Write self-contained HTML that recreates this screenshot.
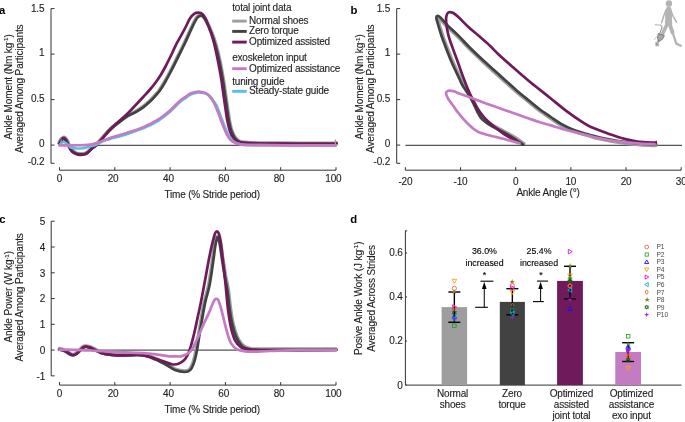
<!DOCTYPE html>
<html><head><meta charset="utf-8"><style>
html,body{margin:0;padding:0;background:#fff;width:685px;height:422px;overflow:hidden;}
svg{display:block;will-change:transform;}
text{font-family:"Liberation Sans",sans-serif;}
</style></head><body>
<svg width="685" height="422" viewBox="0 0 685 422">
<rect width="685" height="422" fill="#fff"/>
<line x1="51.00" y1="8.60" x2="51.00" y2="163.30" stroke="#333333" stroke-width="1.00"/>
<line x1="51.00" y1="8.60" x2="54.50" y2="8.60" stroke="#333333" stroke-width="1.00"/>
<text x="44.30" y="11.85" font-size="10.00" text-anchor="end" fill="#1e1e1e" stroke="#1e1e1e" stroke-width="0.12" letter-spacing="-0.20" >1.5</text>
<line x1="51.00" y1="54.10" x2="54.50" y2="54.10" stroke="#333333" stroke-width="1.00"/>
<text x="44.30" y="55.70" font-size="10.00" text-anchor="end" fill="#1e1e1e" stroke="#1e1e1e" stroke-width="0.12" letter-spacing="-0.20" >1</text>
<line x1="51.00" y1="99.60" x2="54.50" y2="99.60" stroke="#333333" stroke-width="1.00"/>
<text x="44.30" y="102.20" font-size="10.00" text-anchor="end" fill="#1e1e1e" stroke="#1e1e1e" stroke-width="0.12" letter-spacing="-0.20" >0.5</text>
<line x1="51.00" y1="145.10" x2="54.50" y2="145.10" stroke="#333333" stroke-width="1.00"/>
<text x="44.30" y="146.70" font-size="10.00" text-anchor="end" fill="#1e1e1e" stroke="#1e1e1e" stroke-width="0.12" letter-spacing="-0.20" >0</text>
<line x1="51.00" y1="163.30" x2="54.50" y2="163.30" stroke="#333333" stroke-width="1.00"/>
<text x="44.30" y="164.80" font-size="10.00" text-anchor="end" fill="#1e1e1e" stroke="#1e1e1e" stroke-width="0.12" letter-spacing="-0.20" >-0.2</text>
<line x1="59.50" y1="170.20" x2="336.00" y2="170.20" stroke="#333333" stroke-width="1.00"/>
<line x1="59.50" y1="170.20" x2="59.50" y2="167.20" stroke="#333333" stroke-width="1.00"/>
<text x="59.50" y="181.60" font-size="10.00" text-anchor="middle" fill="#1e1e1e" stroke="#1e1e1e" stroke-width="0.12" letter-spacing="-0.20" >0</text>
<line x1="114.80" y1="170.20" x2="114.80" y2="167.20" stroke="#333333" stroke-width="1.00"/>
<text x="113.10" y="181.60" font-size="10.00" text-anchor="middle" fill="#1e1e1e" stroke="#1e1e1e" stroke-width="0.12" letter-spacing="-0.20" >20</text>
<line x1="170.10" y1="170.20" x2="170.10" y2="167.20" stroke="#333333" stroke-width="1.00"/>
<text x="168.40" y="181.60" font-size="10.00" text-anchor="middle" fill="#1e1e1e" stroke="#1e1e1e" stroke-width="0.12" letter-spacing="-0.20" >40</text>
<line x1="225.40" y1="170.20" x2="225.40" y2="167.20" stroke="#333333" stroke-width="1.00"/>
<text x="223.70" y="181.60" font-size="10.00" text-anchor="middle" fill="#1e1e1e" stroke="#1e1e1e" stroke-width="0.12" letter-spacing="-0.20" >60</text>
<line x1="280.70" y1="170.20" x2="280.70" y2="167.20" stroke="#333333" stroke-width="1.00"/>
<text x="279.00" y="181.60" font-size="10.00" text-anchor="middle" fill="#1e1e1e" stroke="#1e1e1e" stroke-width="0.12" letter-spacing="-0.20" >80</text>
<line x1="336.00" y1="170.20" x2="336.00" y2="167.20" stroke="#333333" stroke-width="1.00"/>
<text x="333.40" y="181.60" font-size="10.00" text-anchor="middle" fill="#1e1e1e" stroke="#1e1e1e" stroke-width="0.12" letter-spacing="-0.20" >100</text>
<text x="164.50" y="197.70" font-size="10.00" text-anchor="start" fill="#1e1e1e" stroke="#1e1e1e" stroke-width="0.12" letter-spacing="-0.20" >Time (% Stride period)</text>
<line x1="59.50" y1="145.30" x2="336.00" y2="145.30" stroke="#555555" stroke-width="1.30"/>
<text transform="translate(12.00,139.50) rotate(-90)" font-size="10.00" fill="#1e1e1e" stroke="#1e1e1e" stroke-width="0.12" letter-spacing="-0.12">Ankle Moment (Nm kg<tspan font-size="6.2" dy="-3.6">-1</tspan><tspan dy="3.6">)</tspan></text>
<text transform="translate(22.60,152.90) rotate(-90)" font-size="10.00" fill="#1e1e1e" stroke="#1e1e1e" stroke-width="0.12" letter-spacing="-0.12">Averaged Among Participants</text>
<text x="-0.9" y="14.3" font-size="11.3" font-weight="bold" fill="#000">a</text>
<path d="M58.70,143.10 C59.04,142.41 59.89,139.98 60.79,138.95 C61.68,137.92 63.00,136.74 64.08,136.92 C65.16,137.10 66.32,138.52 67.28,140.04 C68.23,141.57 68.90,144.36 69.80,146.08 C70.69,147.80 71.55,149.25 72.64,150.37 C73.73,151.48 75.12,152.25 76.35,152.77 C77.59,153.29 78.64,153.44 80.04,153.50 C81.44,153.56 83.54,153.45 84.77,153.13 C86.01,152.81 86.34,152.48 87.44,151.59 C88.55,150.71 90.01,149.02 91.41,147.82 C92.82,146.61 94.05,146.12 95.87,144.35 C97.69,142.58 100.08,139.70 102.33,137.20 C104.58,134.70 106.86,131.79 109.37,129.35 C111.89,126.92 114.65,124.81 117.44,122.60 C120.23,120.38 123.27,117.85 126.12,116.04 C128.97,114.23 131.79,113.30 134.55,111.72 C137.31,110.14 140.20,108.39 142.67,106.57 C145.14,104.76 147.44,102.65 149.39,100.84 C151.33,99.03 152.74,97.46 154.33,95.70 C155.93,93.93 157.32,92.58 158.97,90.28 C160.62,87.97 162.28,85.22 164.22,81.85 C166.16,78.49 168.44,74.24 170.60,70.08 C172.76,65.93 174.96,61.40 177.19,56.90 C179.42,52.40 181.91,47.49 183.99,43.11 C186.07,38.73 188.06,34.13 189.68,30.62 C191.30,27.12 192.51,24.37 193.70,22.09 C194.89,19.80 195.76,18.11 196.81,16.92 C197.87,15.72 198.94,15.10 200.03,14.92 C201.13,14.73 202.33,14.96 203.39,15.82 C204.45,16.68 204.91,17.20 206.40,20.09 C207.89,22.98 210.68,28.97 212.34,33.17 C214.00,37.36 215.06,40.65 216.37,45.25 C217.67,49.86 218.96,55.05 220.18,60.81 C221.40,66.58 222.74,74.18 223.69,79.85 C224.64,85.53 225.21,90.20 225.89,94.87 C226.57,99.54 227.14,103.52 227.79,107.87 C228.44,112.21 229.02,117.04 229.78,120.93 C230.54,124.82 231.39,128.45 232.35,131.20 C233.31,133.96 234.26,135.79 235.52,137.45 C236.77,139.12 238.11,140.40 239.87,141.18 C241.63,141.95 242.71,141.85 246.07,142.10 C249.43,142.36 251.02,142.57 260.01,142.70 C269.00,142.83 287.84,142.87 300.00,142.90 C312.16,142.93 327.03,142.98 332.99,142.90 C338.94,142.82 335.29,142.49 335.75,142.41" fill="none" stroke="#9e9e9e" stroke-width="3.00" stroke-linejoin="round" stroke-linecap="round" />
<path d="M59.50,143.50 C59.83,142.83 60.77,140.45 61.50,139.50 C62.23,138.55 63.07,137.63 63.90,137.80 C64.73,137.97 65.65,139.05 66.50,140.50 C67.35,141.95 68.08,144.75 69.00,146.50 C69.92,148.25 70.83,149.82 72.00,151.00 C73.17,152.18 74.67,153.03 76.00,153.60 C77.33,154.17 78.50,154.33 80.00,154.40 C81.50,154.47 83.67,154.35 85.00,154.00 C86.33,153.65 86.83,153.22 88.00,152.30 C89.17,151.38 90.58,149.72 92.00,148.50 C93.42,147.28 94.67,146.78 96.50,145.00 C98.33,143.22 100.75,140.30 103.00,137.80 C105.25,135.30 107.50,132.42 110.00,130.00 C112.50,127.58 115.23,125.50 118.00,123.30 C120.77,121.10 123.77,118.60 126.60,116.80 C129.43,115.00 132.23,114.08 135.00,112.50 C137.77,110.92 140.70,109.13 143.20,107.30 C145.70,105.47 148.03,103.33 150.00,101.50 C151.97,99.67 153.38,98.08 155.00,96.30 C156.62,94.52 158.03,93.13 159.70,90.80 C161.37,88.47 163.05,85.68 165.00,82.30 C166.95,78.92 169.23,74.67 171.40,70.50 C173.57,66.33 175.77,61.80 178.00,57.30 C180.23,52.80 182.72,47.88 184.80,43.50 C186.88,39.12 188.88,34.50 190.50,31.00 C192.12,27.50 193.33,24.75 194.50,22.50 C195.67,20.25 196.55,18.62 197.50,17.50 C198.45,16.38 199.32,15.97 200.20,15.80 C201.08,15.63 201.90,15.72 202.80,16.50 C203.70,17.28 204.15,17.67 205.60,20.50 C207.05,23.33 209.85,29.33 211.50,33.50 C213.15,37.67 214.20,40.92 215.50,45.50 C216.80,50.08 218.08,55.25 219.30,61.00 C220.52,66.75 221.85,74.33 222.80,80.00 C223.75,85.67 224.32,90.33 225.00,95.00 C225.68,99.67 226.25,103.65 226.90,108.00 C227.55,112.35 228.13,117.18 228.90,121.10 C229.67,125.02 230.52,128.68 231.50,131.50 C232.48,134.32 233.47,136.25 234.80,138.00 C236.13,139.75 237.63,141.17 239.50,142.00 C241.37,142.83 242.58,142.73 246.00,143.00 C249.42,143.27 251.00,143.47 260.00,143.60 C269.00,143.73 287.83,143.77 300.00,143.80 C312.17,143.83 327.02,143.88 333.00,143.80 C338.98,143.72 335.42,143.38 335.90,143.30" fill="none" stroke="#424242" stroke-width="2.70" stroke-linejoin="round" stroke-linecap="round" />
<path d="M59.50,143.50 C59.83,143.00 60.77,141.25 61.50,140.50 C62.23,139.75 63.07,138.83 63.90,139.00 C64.73,139.17 65.65,140.17 66.50,141.50 C67.35,142.83 68.08,145.33 69.00,147.00 C69.92,148.67 70.83,150.33 72.00,151.50 C73.17,152.67 74.67,153.45 76.00,154.00 C77.33,154.55 78.50,154.75 80.00,154.80 C81.50,154.85 83.67,154.68 85.00,154.30 C86.33,153.92 86.83,153.47 88.00,152.50 C89.17,151.53 90.58,149.75 92.00,148.50 C93.42,147.25 94.67,146.78 96.50,145.00 C98.33,143.22 100.75,140.35 103.00,137.80 C105.25,135.25 107.50,132.30 110.00,129.70 C112.50,127.10 115.23,124.73 118.00,122.20 C120.77,119.67 123.77,117.23 126.60,114.50 C129.43,111.77 132.23,108.72 135.00,105.80 C137.77,102.88 140.70,99.72 143.20,97.00 C145.70,94.28 147.87,92.00 150.00,89.50 C152.13,87.00 154.17,84.50 156.00,82.00 C157.83,79.50 159.47,77.00 161.00,74.50 C162.53,72.00 163.62,70.00 165.20,67.00 C166.78,64.00 168.52,60.55 170.50,56.50 C172.48,52.45 174.82,47.13 177.10,42.70 C179.38,38.27 182.07,33.93 184.20,29.90 C186.33,25.87 188.25,21.18 189.90,18.50 C191.55,15.82 192.68,14.78 194.10,13.80 C195.52,12.82 196.97,12.53 198.40,12.60 C199.83,12.67 201.45,13.10 202.70,14.20 C203.95,15.30 204.57,16.27 205.90,19.20 C207.23,22.13 209.32,27.72 210.70,31.80 C212.08,35.88 213.02,38.95 214.20,43.70 C215.38,48.45 216.62,54.38 217.80,60.30 C218.98,66.22 220.35,73.42 221.30,79.20 C222.25,84.98 222.82,90.20 223.50,95.00 C224.18,99.80 224.75,103.65 225.40,108.00 C226.05,112.35 226.63,117.18 227.40,121.10 C228.17,125.02 229.02,128.68 230.00,131.50 C230.98,134.32 231.88,136.27 233.30,138.00 C234.72,139.73 236.55,141.08 238.50,141.90 C240.45,142.72 241.42,142.63 245.00,142.90 C248.58,143.17 250.83,143.35 260.00,143.50 C269.17,143.65 287.83,143.75 300.00,143.80 C312.17,143.85 327.02,143.88 333.00,143.80 C338.98,143.72 335.42,143.38 335.90,143.30" fill="none" stroke="#6f1a5b" stroke-width="2.70" stroke-linejoin="round" stroke-linecap="round" />
<path d="M59.50,145.00 C59.83,144.67 60.83,143.50 61.50,143.00 C62.17,142.50 62.67,141.92 63.50,142.00 C64.33,142.08 65.42,142.67 66.50,143.50 C67.58,144.33 68.58,146.20 70.00,147.00 C71.42,147.80 73.33,148.05 75.00,148.30 C76.67,148.55 78.33,148.55 80.00,148.50 C81.67,148.45 83.33,148.33 85.00,148.00 C86.67,147.67 88.08,147.08 90.00,146.50 C91.92,145.92 94.33,145.42 96.50,144.50 C98.67,143.58 100.75,141.93 103.00,141.00 C105.25,140.07 106.07,140.05 110.00,138.90 C113.93,137.75 121.07,135.87 126.60,134.10 C132.13,132.33 137.97,130.52 143.20,128.30 C148.43,126.08 153.53,123.57 158.00,120.80 C162.47,118.03 166.33,114.83 170.00,111.70 C173.67,108.57 177.50,104.23 180.00,102.00 C182.50,99.77 183.17,99.58 185.00,98.30 C186.83,97.02 188.80,95.28 191.00,94.30 C193.20,93.32 196.12,92.62 198.20,92.40 C200.28,92.18 201.93,92.67 203.50,93.00 C205.07,93.33 206.35,93.63 207.60,94.40 C208.85,95.17 209.85,96.27 211.00,97.60 C212.15,98.93 213.58,101.07 214.50,102.40 C215.42,103.73 215.52,103.43 216.50,105.60 C217.48,107.77 219.10,112.03 220.40,115.40 C221.70,118.77 223.00,122.55 224.30,125.80 C225.60,129.05 226.90,132.43 228.20,134.90 C229.50,137.37 230.57,139.15 232.10,140.60 C233.63,142.05 235.65,142.92 237.40,143.60 C239.15,144.28 241.17,144.47 242.60,144.70 C244.03,144.93 243.10,144.92 246.00,145.00 C248.90,145.08 251.00,145.15 260.00,145.20 C269.00,145.25 287.35,145.28 300.00,145.30 C312.65,145.32 329.92,145.30 335.90,145.30" fill="none" stroke="#5bbdea" stroke-width="2.70" stroke-linejoin="round" stroke-linecap="round" />
<path d="M59.50,145.30 C62.08,145.30 69.92,145.42 75.00,145.30 C80.08,145.18 85.83,145.15 90.00,144.60 C94.17,144.05 96.67,143.10 100.00,142.00 C103.33,140.90 105.57,139.50 110.00,138.00 C114.43,136.50 121.07,134.80 126.60,133.00 C132.13,131.20 137.97,129.42 143.20,127.20 C148.43,124.98 153.53,122.48 158.00,119.70 C162.47,116.92 166.33,113.67 170.00,110.50 C173.67,107.33 177.50,102.92 180.00,100.70 C182.50,98.48 183.17,98.43 185.00,97.20 C186.83,95.97 188.80,94.23 191.00,93.30 C193.20,92.37 196.20,91.77 198.20,91.60 C200.20,91.43 201.60,91.97 203.00,92.30 C204.40,92.63 205.43,92.85 206.60,93.60 C207.77,94.35 208.88,95.47 210.00,96.80 C211.12,98.13 212.47,100.27 213.30,101.60 C214.13,102.93 214.07,102.63 215.00,104.80 C215.93,106.97 217.60,111.23 218.90,114.60 C220.20,117.97 221.50,121.75 222.80,125.00 C224.10,128.25 225.40,131.60 226.70,134.10 C228.00,136.60 229.07,138.48 230.60,140.00 C232.13,141.52 234.15,142.45 235.90,143.20 C237.65,143.95 239.58,144.22 241.10,144.50 C242.62,144.78 241.85,144.78 245.00,144.90 C248.15,145.02 250.83,145.13 260.00,145.20 C269.17,145.27 287.35,145.28 300.00,145.30 C312.65,145.32 329.92,145.30 335.90,145.30" fill="none" stroke="#c47bc2" stroke-width="2.70" stroke-linejoin="round" stroke-linecap="round" />
<line x1="335.40" y1="144.50" x2="335.40" y2="139.50" stroke="#9e9e9e" stroke-width="1.30"/>
<line x1="61.20" y1="143.50" x2="61.20" y2="139.50" stroke="#9e9e9e" stroke-width="1.20"/>
<text x="232.20" y="11.30" font-size="10.00" text-anchor="start" fill="#1e1e1e" stroke="#1e1e1e" stroke-width="0.12" letter-spacing="-0.20" >total joint data</text>
<line x1="232.20" y1="21.10" x2="246.70" y2="21.10" stroke="#9e9e9e" stroke-width="2.90"/>
<text x="249.10" y="24.00" font-size="10.00" text-anchor="start" fill="#1e1e1e" stroke="#1e1e1e" stroke-width="0.12" letter-spacing="-0.20" >Normal shoes</text>
<line x1="232.20" y1="31.40" x2="246.70" y2="31.40" stroke="#424242" stroke-width="2.90"/>
<text x="249.10" y="34.30" font-size="10.00" text-anchor="start" fill="#1e1e1e" stroke="#1e1e1e" stroke-width="0.12" letter-spacing="-0.20" >Zero torque</text>
<line x1="232.20" y1="42.10" x2="246.70" y2="42.10" stroke="#6f1a5b" stroke-width="2.90"/>
<text x="249.10" y="45.00" font-size="10.00" text-anchor="start" fill="#1e1e1e" stroke="#1e1e1e" stroke-width="0.12" letter-spacing="-0.20" >Optimized assisted</text>
<text x="232.20" y="60.80" font-size="10.00" text-anchor="start" fill="#1e1e1e" stroke="#1e1e1e" stroke-width="0.12" letter-spacing="-0.20" >exoskeleton input</text>
<line x1="232.20" y1="68.70" x2="246.70" y2="68.70" stroke="#c47bc2" stroke-width="2.90"/>
<text x="249.10" y="71.60" font-size="10.00" text-anchor="start" fill="#1e1e1e" stroke="#1e1e1e" stroke-width="0.12" letter-spacing="-0.20" >Optimized assistance</text>
<text x="232.20" y="85.00" font-size="10.00" text-anchor="start" fill="#1e1e1e" stroke="#1e1e1e" stroke-width="0.12" letter-spacing="-0.20" >tuning guide</text>
<line x1="232.20" y1="91.30" x2="246.70" y2="91.30" stroke="#5bbdea" stroke-width="2.90"/>
<text x="249.10" y="94.20" font-size="10.00" text-anchor="start" fill="#1e1e1e" stroke="#1e1e1e" stroke-width="0.12" letter-spacing="-0.20" >Steady-state guide</text>
<line x1="396.70" y1="8.60" x2="396.70" y2="163.30" stroke="#333333" stroke-width="1.00"/>
<line x1="396.70" y1="8.60" x2="400.20" y2="8.60" stroke="#333333" stroke-width="1.00"/>
<text x="390.00" y="11.85" font-size="10.00" text-anchor="end" fill="#1e1e1e" stroke="#1e1e1e" stroke-width="0.12" letter-spacing="-0.20" >1.5</text>
<line x1="396.70" y1="54.10" x2="400.20" y2="54.10" stroke="#333333" stroke-width="1.00"/>
<text x="390.00" y="55.70" font-size="10.00" text-anchor="end" fill="#1e1e1e" stroke="#1e1e1e" stroke-width="0.12" letter-spacing="-0.20" >1</text>
<line x1="396.70" y1="99.60" x2="400.20" y2="99.60" stroke="#333333" stroke-width="1.00"/>
<text x="390.00" y="102.20" font-size="10.00" text-anchor="end" fill="#1e1e1e" stroke="#1e1e1e" stroke-width="0.12" letter-spacing="-0.20" >0.5</text>
<line x1="396.70" y1="145.10" x2="400.20" y2="145.10" stroke="#333333" stroke-width="1.00"/>
<text x="390.00" y="146.70" font-size="10.00" text-anchor="end" fill="#1e1e1e" stroke="#1e1e1e" stroke-width="0.12" letter-spacing="-0.20" >0</text>
<line x1="396.70" y1="163.30" x2="400.20" y2="163.30" stroke="#333333" stroke-width="1.00"/>
<text x="390.00" y="164.80" font-size="10.00" text-anchor="end" fill="#1e1e1e" stroke="#1e1e1e" stroke-width="0.12" letter-spacing="-0.20" >-0.2</text>
<line x1="405.38" y1="170.20" x2="681.18" y2="170.20" stroke="#333333" stroke-width="1.00"/>
<line x1="405.38" y1="170.20" x2="405.38" y2="167.20" stroke="#333333" stroke-width="1.00"/>
<text x="405.38" y="184.50" font-size="10.00" text-anchor="middle" fill="#1e1e1e" stroke="#1e1e1e" stroke-width="0.12" letter-spacing="-0.20" >-20</text>
<line x1="460.54" y1="170.20" x2="460.54" y2="167.20" stroke="#333333" stroke-width="1.00"/>
<text x="460.54" y="184.50" font-size="10.00" text-anchor="middle" fill="#1e1e1e" stroke="#1e1e1e" stroke-width="0.12" letter-spacing="-0.20" >-10</text>
<line x1="515.70" y1="170.20" x2="515.70" y2="167.20" stroke="#333333" stroke-width="1.00"/>
<text x="515.70" y="184.50" font-size="10.00" text-anchor="middle" fill="#1e1e1e" stroke="#1e1e1e" stroke-width="0.12" letter-spacing="-0.20" >0</text>
<line x1="570.86" y1="170.20" x2="570.86" y2="167.20" stroke="#333333" stroke-width="1.00"/>
<text x="570.86" y="184.50" font-size="10.00" text-anchor="middle" fill="#1e1e1e" stroke="#1e1e1e" stroke-width="0.12" letter-spacing="-0.20" >10</text>
<line x1="626.02" y1="170.20" x2="626.02" y2="167.20" stroke="#333333" stroke-width="1.00"/>
<text x="626.02" y="184.50" font-size="10.00" text-anchor="middle" fill="#1e1e1e" stroke="#1e1e1e" stroke-width="0.12" letter-spacing="-0.20" >20</text>
<line x1="681.18" y1="170.20" x2="681.18" y2="167.20" stroke="#333333" stroke-width="1.00"/>
<text x="681.18" y="184.50" font-size="10.00" text-anchor="middle" fill="#1e1e1e" stroke="#1e1e1e" stroke-width="0.12" letter-spacing="-0.20" >30</text>
<line x1="405.38" y1="145.30" x2="682.00" y2="145.30" stroke="#555555" stroke-width="1.30"/>
<text x="516.40" y="195.80" font-size="10.00" text-anchor="start" fill="#1e1e1e" stroke="#1e1e1e" stroke-width="0.12" letter-spacing="-0.20" >Ankle Angle (&#176;)</text>
<text transform="translate(363.30,139.50) rotate(-90)" font-size="10.00" fill="#1e1e1e" stroke="#1e1e1e" stroke-width="0.12" letter-spacing="-0.12">Ankle Moment (Nm kg<tspan font-size="6.2" dy="-3.6">-1</tspan><tspan dy="3.6">)</tspan></text>
<text transform="translate(374.20,152.90) rotate(-90)" font-size="10.00" fill="#1e1e1e" stroke="#1e1e1e" stroke-width="0.12" letter-spacing="-0.12">Averaged Among Participants</text>
<text x="350.4" y="14.4" font-size="11.3" font-weight="bold" fill="#000">b</text>
<path d="M523.94,143.63 C522.38,142.56 518.29,139.49 514.58,137.20 C510.88,134.90 505.71,132.08 501.73,129.86 C497.75,127.65 493.82,125.86 490.69,123.90 C487.56,121.94 484.95,120.19 482.94,118.10 C480.93,116.01 480.19,114.25 478.64,111.38 C477.09,108.51 475.32,104.07 473.65,100.89 C471.98,97.72 470.31,95.07 468.61,92.32 C466.90,89.56 464.75,86.67 463.43,84.36 C462.11,82.04 461.88,81.01 460.68,78.45 C459.47,75.88 457.66,72.16 456.18,68.96 C454.70,65.75 453.36,62.95 451.80,59.20 C450.24,55.45 448.34,50.44 446.81,46.44 C445.29,42.43 443.96,39.15 442.63,35.19 C441.31,31.22 439.69,25.54 438.85,22.64 C438.01,19.74 437.77,18.73 437.60,17.80 C437.43,16.87 437.59,17.04 437.84,17.08 C438.09,17.12 437.71,16.58 439.10,18.04 C440.49,19.50 443.11,22.74 446.18,25.82 C449.24,28.90 453.66,32.70 457.48,36.52 C461.30,40.34 464.78,44.43 469.08,48.72 C473.39,53.01 478.58,57.86 483.32,62.25 C488.06,66.64 493.78,71.70 497.53,75.07 C501.28,78.44 502.50,79.48 505.83,82.47 C509.17,85.46 513.65,89.65 517.56,92.99 C521.46,96.33 525.67,99.58 529.28,102.51 C532.89,105.44 535.76,107.95 539.22,110.54 C542.69,113.13 546.45,115.61 550.07,118.07 C553.69,120.54 557.06,123.12 560.96,125.33 C564.85,127.54 568.78,129.55 573.44,131.32 C578.10,133.09 584.56,134.69 588.94,135.95 C593.32,137.21 594.58,137.76 599.73,138.87 C604.87,139.98 613.11,141.58 619.81,142.59 C626.50,143.59 633.87,144.38 639.89,144.90 C645.91,145.41 653.26,145.56 655.94,145.70" fill="none" stroke="#9e9e9e" stroke-width="3.20" stroke-linejoin="round" stroke-linecap="round" />
<path d="M523.20,144.70 C521.65,143.63 517.58,140.58 513.90,138.30 C510.22,136.02 505.08,133.22 501.10,131.00 C497.12,128.78 493.18,127.00 490.00,125.00 C486.82,123.00 484.08,121.17 482.00,119.00 C479.92,116.83 479.08,114.92 477.50,112.00 C475.92,109.08 474.17,104.67 472.50,101.50 C470.83,98.33 469.20,95.75 467.50,93.00 C465.80,90.25 463.63,87.33 462.30,85.00 C460.97,82.67 460.72,81.58 459.50,79.00 C458.28,76.42 456.48,72.72 455.00,69.50 C453.52,66.28 452.17,63.47 450.60,59.70 C449.03,55.93 447.13,50.92 445.60,46.90 C444.07,42.88 442.73,39.58 441.40,35.60 C440.07,31.62 438.45,25.97 437.60,23.00 C436.75,20.03 436.30,19.00 436.30,17.80 C436.30,16.60 436.98,15.92 437.60,15.80 C438.22,15.68 438.42,15.58 440.00,17.10 C441.58,18.62 444.03,21.82 447.10,24.90 C450.17,27.98 454.58,31.78 458.40,35.60 C462.22,39.42 465.70,43.52 470.00,47.80 C474.30,52.08 479.47,56.92 484.20,61.30 C488.93,65.68 494.65,70.73 498.40,74.10 C502.15,77.47 503.37,78.52 506.70,81.50 C510.03,84.48 514.50,88.67 518.40,92.00 C522.30,95.33 526.50,98.58 530.10,101.50 C533.70,104.42 536.55,106.92 540.00,109.50 C543.45,112.08 547.20,114.55 550.80,117.00 C554.40,119.45 557.75,122.02 561.60,124.20 C565.45,126.38 569.28,128.35 573.90,130.10 C578.52,131.85 584.95,133.45 589.30,134.70 C593.65,135.95 594.88,136.50 600.00,137.60 C605.12,138.70 613.33,140.30 620.00,141.30 C626.67,142.30 634.00,143.08 640.00,143.60 C646.00,144.12 653.33,144.27 656.00,144.40" fill="none" stroke="#424242" stroke-width="2.70" stroke-linejoin="round" stroke-linecap="round" />
<path d="M519.60,142.60 C518.42,142.00 515.10,140.43 512.50,139.00 C509.90,137.57 506.72,135.80 504.00,134.00 C501.28,132.20 498.67,130.13 496.20,128.20 C493.73,126.27 491.33,124.35 489.20,122.40 C487.07,120.45 485.35,118.83 483.40,116.50 C481.45,114.17 479.45,111.50 477.50,108.40 C475.55,105.30 473.45,101.47 471.70,97.90 C469.95,94.33 468.62,90.98 467.00,87.00 C465.38,83.02 463.67,78.55 462.00,74.00 C460.33,69.45 458.53,63.97 457.00,59.70 C455.47,55.43 454.22,52.42 452.80,48.40 C451.38,44.38 449.57,39.63 448.50,35.60 C447.43,31.57 446.77,27.38 446.40,24.20 C446.03,21.02 445.95,18.47 446.30,16.50 C446.65,14.53 447.42,13.02 448.50,12.40 C449.58,11.78 451.15,12.02 452.80,12.80 C454.45,13.58 455.80,14.73 458.40,17.10 C461.00,19.47 465.07,23.92 468.40,27.00 C471.73,30.08 474.85,32.52 478.40,35.60 C481.95,38.68 486.37,42.40 489.70,45.50 C493.03,48.60 494.57,50.62 498.40,54.20 C502.23,57.78 507.82,62.70 512.70,67.00 C517.58,71.30 523.92,76.80 527.70,80.00 C531.48,83.20 531.55,83.12 535.40,86.20 C539.25,89.28 545.67,94.40 550.80,98.50 C555.93,102.60 561.07,106.95 566.20,110.80 C571.33,114.65 577.48,118.90 581.60,121.60 C585.72,124.30 587.53,125.40 590.90,127.00 C594.27,128.60 598.00,129.78 601.80,131.20 C605.60,132.62 609.75,134.18 613.70,135.50 C617.65,136.82 621.55,138.10 625.50,139.10 C629.45,140.10 632.35,140.90 637.40,141.50 C642.45,142.10 652.73,142.50 655.80,142.70" fill="none" stroke="#6f1a5b" stroke-width="2.70" stroke-linejoin="round" stroke-linecap="round" />
<path d="M519.60,143.30 C517.47,142.70 511.30,140.88 506.80,139.70 C502.30,138.52 497.33,137.50 492.60,136.20 C487.87,134.90 481.95,133.45 478.40,131.90 C474.85,130.35 473.67,128.92 471.30,126.90 C468.93,124.88 466.57,122.40 464.20,119.80 C461.83,117.20 459.12,113.90 457.10,111.30 C455.08,108.70 453.53,106.22 452.10,104.20 C450.67,102.18 449.45,100.77 448.50,99.20 C447.55,97.63 446.78,95.97 446.40,94.80 C446.02,93.63 445.73,92.88 446.20,92.20 C446.67,91.52 447.87,90.83 449.20,90.70 C450.53,90.57 452.40,90.88 454.20,91.40 C456.00,91.92 457.08,92.72 460.00,93.80 C462.92,94.88 467.80,96.45 471.70,97.90 C475.60,99.35 479.52,101.05 483.40,102.50 C487.28,103.95 491.12,105.23 495.00,106.60 C498.88,107.97 502.80,109.33 506.70,110.70 C510.60,112.07 514.50,113.43 518.40,114.80 C522.30,116.17 526.50,117.67 530.10,118.90 C533.70,120.13 536.55,121.12 540.00,122.20 C543.45,123.28 546.43,124.12 550.80,125.40 C555.17,126.68 561.07,128.48 566.20,129.90 C571.33,131.32 575.97,132.48 581.60,133.90 C587.23,135.32 594.65,137.23 600.00,138.40 C605.35,139.57 607.47,140.07 613.70,140.90 C619.93,141.73 630.28,142.83 637.40,143.40 C644.52,143.97 653.23,144.15 656.40,144.30" fill="none" stroke="#c47bc2" stroke-width="2.70" stroke-linejoin="round" stroke-linecap="round" />
<line x1="656.30" y1="144.50" x2="656.30" y2="140.80" stroke="#6f1a5b" stroke-width="1.20"/>
<g fill="#b4b4b4" stroke="none">
<circle cx="668.9" cy="3.4" r="3.2"/>
<path d="M667.2,6.2 L670.4,6.4 L671.6,9.2 L672.2,14 L671.9,19.5 L672.3,24.5 L666.8,26.5 L664.9,24 L665.2,18 L665.0,12.5 L665.9,9 Z"/>
</g>
<g fill="none" stroke="#b4b4b4" stroke-linecap="round" stroke-linejoin="round">
<path d="M666.2,9.5 L663.6,16.2 L661.6,22.8" stroke-width="1.6"/>
<path d="M670.6,10 L673.2,16.3 L676.5,22.2" stroke-width="1.6"/>
<path d="M669.4,23.5 L672.6,32.5" stroke-width="3.8"/>
<path d="M672.6,32.5 L676.3,43.6 L680.8,45.7" stroke-width="2.3"/>
<path d="M667.2,24 L662.6,33.6" stroke-width="3.6"/>
<path d="M662.6,33.6 L657.6,42.2 L656.4,45.2" stroke-width="2.4"/>
</g>
<path d="M655.1,24.8 L660.6,25.1" stroke="#c8c8c8" stroke-width="1.4" stroke-linecap="round"/>
<path d="M660.6,25.1 Q662.6,26 661.9,28 L659.4,34.2" fill="none" stroke="#555" stroke-width="0.7"/>
<path d="M658.2,33.6 L664.4,35.6 L662.6,39.2 L658.9,41.6 L657.4,38.2 Z" fill="#a6a6a6" stroke="#555" stroke-width="0.6"/>
<path d="M654,40 L658,35.1" stroke="#f4a582" stroke-width="0.8"/>
<path d="M655.2,42.2 L658.6,43.2 L658.8,46.4 L656,45.6 Z" fill="#a0a0a0"/>
<line x1="51.20" y1="221.25" x2="51.20" y2="375.87" stroke="#333333" stroke-width="1.00"/>
<line x1="51.20" y1="375.87" x2="54.70" y2="375.87" stroke="#333333" stroke-width="1.00"/>
<text x="45.10" y="379.67" font-size="10.00" text-anchor="end" fill="#1e1e1e" stroke="#1e1e1e" stroke-width="0.12" letter-spacing="-0.20" >-1</text>
<line x1="51.20" y1="350.10" x2="54.70" y2="350.10" stroke="#333333" stroke-width="1.00"/>
<text x="45.10" y="353.90" font-size="10.00" text-anchor="end" fill="#1e1e1e" stroke="#1e1e1e" stroke-width="0.12" letter-spacing="-0.20" >0</text>
<line x1="51.20" y1="324.33" x2="54.70" y2="324.33" stroke="#333333" stroke-width="1.00"/>
<text x="45.10" y="328.13" font-size="10.00" text-anchor="end" fill="#1e1e1e" stroke="#1e1e1e" stroke-width="0.12" letter-spacing="-0.20" >1</text>
<line x1="51.20" y1="298.56" x2="54.70" y2="298.56" stroke="#333333" stroke-width="1.00"/>
<text x="45.10" y="302.36" font-size="10.00" text-anchor="end" fill="#1e1e1e" stroke="#1e1e1e" stroke-width="0.12" letter-spacing="-0.20" >2</text>
<line x1="51.20" y1="272.79" x2="54.70" y2="272.79" stroke="#333333" stroke-width="1.00"/>
<text x="45.10" y="276.59" font-size="10.00" text-anchor="end" fill="#1e1e1e" stroke="#1e1e1e" stroke-width="0.12" letter-spacing="-0.20" >3</text>
<line x1="51.20" y1="247.02" x2="54.70" y2="247.02" stroke="#333333" stroke-width="1.00"/>
<text x="45.10" y="250.82" font-size="10.00" text-anchor="end" fill="#1e1e1e" stroke="#1e1e1e" stroke-width="0.12" letter-spacing="-0.20" >4</text>
<line x1="51.20" y1="221.25" x2="54.70" y2="221.25" stroke="#333333" stroke-width="1.00"/>
<text x="45.10" y="225.05" font-size="10.00" text-anchor="end" fill="#1e1e1e" stroke="#1e1e1e" stroke-width="0.12" letter-spacing="-0.20" >5</text>
<line x1="59.50" y1="385.10" x2="336.00" y2="385.10" stroke="#333333" stroke-width="1.00"/>
<line x1="59.50" y1="385.10" x2="59.50" y2="382.10" stroke="#333333" stroke-width="1.00"/>
<text x="59.50" y="396.80" font-size="10.00" text-anchor="middle" fill="#1e1e1e" stroke="#1e1e1e" stroke-width="0.12" letter-spacing="-0.20" >0</text>
<line x1="114.80" y1="385.10" x2="114.80" y2="382.10" stroke="#333333" stroke-width="1.00"/>
<text x="113.10" y="396.80" font-size="10.00" text-anchor="middle" fill="#1e1e1e" stroke="#1e1e1e" stroke-width="0.12" letter-spacing="-0.20" >20</text>
<line x1="170.10" y1="385.10" x2="170.10" y2="382.10" stroke="#333333" stroke-width="1.00"/>
<text x="168.40" y="396.80" font-size="10.00" text-anchor="middle" fill="#1e1e1e" stroke="#1e1e1e" stroke-width="0.12" letter-spacing="-0.20" >40</text>
<line x1="225.40" y1="385.10" x2="225.40" y2="382.10" stroke="#333333" stroke-width="1.00"/>
<text x="223.70" y="396.80" font-size="10.00" text-anchor="middle" fill="#1e1e1e" stroke="#1e1e1e" stroke-width="0.12" letter-spacing="-0.20" >60</text>
<line x1="280.70" y1="385.10" x2="280.70" y2="382.10" stroke="#333333" stroke-width="1.00"/>
<text x="279.00" y="396.80" font-size="10.00" text-anchor="middle" fill="#1e1e1e" stroke="#1e1e1e" stroke-width="0.12" letter-spacing="-0.20" >80</text>
<line x1="336.00" y1="385.10" x2="336.00" y2="382.10" stroke="#333333" stroke-width="1.00"/>
<text x="333.40" y="396.80" font-size="10.00" text-anchor="middle" fill="#1e1e1e" stroke="#1e1e1e" stroke-width="0.12" letter-spacing="-0.20" >100</text>
<text x="164.50" y="412.70" font-size="10.00" text-anchor="start" fill="#1e1e1e" stroke="#1e1e1e" stroke-width="0.12" letter-spacing="-0.20" >Time (% Stride period)</text>
<line x1="59.50" y1="350.10" x2="336.00" y2="350.10" stroke="#555555" stroke-width="1.30"/>
<text transform="translate(12.10,342.60) rotate(-90)" font-size="10.00" fill="#1e1e1e" stroke="#1e1e1e" stroke-width="0.12" letter-spacing="-0.12">Ankle Power (W kg<tspan font-size="6.2" dy="-3.6">-1</tspan><tspan dy="3.6">)</tspan></text>
<text transform="translate(22.80,361.60) rotate(-90)" font-size="10.00" fill="#1e1e1e" stroke="#1e1e1e" stroke-width="0.12" letter-spacing="-0.12">Averaged Among Participants</text>
<text x="-0.8" y="223.0" font-size="11.3" font-weight="bold" fill="#000">c</text>
<path d="M59.37,348.43 C60.04,348.61 62.03,348.95 63.39,349.47 C64.75,349.99 66.29,350.82 67.55,351.55 C68.81,352.27 70.00,353.34 70.95,353.80 C71.91,354.26 72.44,354.43 73.25,354.31 C74.07,354.19 74.87,353.82 75.87,353.10 C76.87,352.38 78.16,351.04 79.24,350.00 C80.33,348.97 81.33,347.57 82.38,346.89 C83.44,346.21 84.33,345.96 85.57,345.90 C86.81,345.84 88.37,346.11 89.82,346.55 C91.27,346.98 92.35,347.60 94.27,348.50 C96.19,349.40 98.49,351.05 101.33,351.95 C104.17,352.85 107.37,353.50 111.31,353.91 C115.26,354.31 119.59,354.32 125.02,354.40 C130.44,354.48 138.69,353.71 143.85,354.41 C149.00,355.11 151.92,356.90 155.93,358.59 C159.94,360.27 164.68,362.78 167.92,364.53 C171.17,366.28 172.63,368.01 175.39,369.07 C178.15,370.13 182.16,370.86 184.50,370.90 C186.84,370.94 188.02,370.76 189.43,369.32 C190.84,367.87 191.91,365.29 192.96,362.24 C194.01,359.18 194.80,355.71 195.72,350.99 C196.65,346.27 197.57,339.60 198.52,333.92 C199.46,328.24 200.47,322.28 201.42,316.91 C202.37,311.53 203.04,307.02 204.23,301.66 C205.41,296.31 207.21,291.51 208.52,284.79 C209.83,278.07 211.16,267.84 212.11,261.34 C213.06,254.84 213.44,249.95 214.22,245.81 C214.99,241.67 215.70,237.01 216.76,236.50 C217.82,236.00 219.55,239.22 220.58,242.77 C221.60,246.32 222.05,252.49 222.89,257.83 C223.72,263.17 224.67,269.53 225.58,274.81 C226.50,280.10 227.55,284.03 228.39,289.54 C229.22,295.04 229.79,302.21 230.59,307.85 C231.39,313.48 232.10,318.65 233.17,323.36 C234.24,328.06 235.62,332.67 237.02,336.08 C238.42,339.49 240.15,342.00 241.57,343.82 C242.98,345.65 244.06,346.28 245.51,347.02 C246.95,347.77 247.83,348.00 250.25,348.31 C252.66,348.62 245.67,348.80 260.01,348.90 C274.35,349.00 323.58,348.90 336.30,348.90" fill="none" stroke="#9e9e9e" stroke-width="3.20" stroke-linejoin="round" stroke-linecap="round" />
<path d="M59.10,349.50 C59.75,349.67 61.68,350.00 63.00,350.50 C64.32,351.00 65.75,351.78 67.00,352.50 C68.25,353.22 69.43,354.32 70.50,354.80 C71.57,355.28 72.40,355.53 73.40,355.40 C74.40,355.27 75.40,354.77 76.50,354.00 C77.60,353.23 78.92,351.83 80.00,350.80 C81.08,349.77 82.07,348.43 83.00,347.80 C83.93,347.17 84.52,347.03 85.60,347.00 C86.68,346.97 88.13,347.18 89.50,347.60 C90.87,348.02 91.88,348.60 93.80,349.50 C95.72,350.40 98.10,352.08 101.00,353.00 C103.90,353.92 107.20,354.58 111.20,355.00 C115.20,355.42 119.58,355.42 125.00,355.50 C130.42,355.58 138.62,354.82 143.70,355.50 C148.78,356.18 151.55,357.93 155.50,359.60 C159.45,361.27 164.15,363.75 167.40,365.50 C170.65,367.25 172.15,369.02 175.00,370.10 C177.85,371.18 181.97,372.00 184.50,372.00 C187.03,372.00 188.62,371.67 190.20,370.10 C191.78,368.53 192.90,365.75 194.00,362.60 C195.10,359.45 195.87,355.95 196.80,351.20 C197.73,346.45 198.65,339.78 199.60,334.10 C200.55,328.42 201.55,322.47 202.50,317.10 C203.45,311.73 204.12,307.25 205.30,301.90 C206.48,296.55 208.28,291.73 209.60,285.00 C210.92,278.27 212.25,268.00 213.20,261.50 C214.15,255.00 214.60,250.02 215.30,246.00 C216.00,241.98 216.70,237.90 217.40,237.40 C218.10,236.90 218.77,239.57 219.50,243.00 C220.23,246.43 220.97,252.67 221.80,258.00 C222.63,263.33 223.58,269.72 224.50,275.00 C225.42,280.28 226.47,284.20 227.30,289.70 C228.13,295.20 228.70,302.35 229.50,308.00 C230.30,313.65 231.02,318.85 232.10,323.60 C233.18,328.35 234.57,333.02 236.00,336.50 C237.43,339.98 239.20,342.58 240.70,344.50 C242.20,346.42 243.43,347.18 245.00,348.00 C246.57,348.82 247.60,349.07 250.10,349.40 C252.60,349.73 245.63,349.90 260.00,350.00 C274.37,350.10 323.58,350.00 336.30,350.00" fill="none" stroke="#424242" stroke-width="2.70" stroke-linejoin="round" stroke-linecap="round" />
<path d="M59.10,349.50 C59.75,349.58 61.68,349.58 63.00,350.00 C64.32,350.42 65.75,351.28 67.00,352.00 C68.25,352.72 69.43,353.80 70.50,354.30 C71.57,354.80 72.40,355.08 73.40,355.00 C74.40,354.92 75.40,354.55 76.50,353.80 C77.60,353.05 78.92,351.55 80.00,350.50 C81.08,349.45 82.07,348.13 83.00,347.50 C83.93,346.87 84.52,346.73 85.60,346.70 C86.68,346.67 88.13,346.87 89.50,347.30 C90.87,347.73 91.88,348.37 93.80,349.30 C95.72,350.23 98.10,351.97 101.00,352.90 C103.90,353.83 107.20,354.48 111.20,354.90 C115.20,355.32 120.57,355.45 125.00,355.40 C129.43,355.35 133.70,354.38 137.80,354.60 C141.90,354.82 145.65,355.67 149.60,356.70 C153.55,357.73 158.10,359.65 161.50,360.80 C164.90,361.95 167.75,362.98 170.00,363.60 C172.25,364.22 173.22,364.67 175.00,364.50 C176.78,364.33 178.97,363.55 180.70,362.60 C182.43,361.65 183.98,360.70 185.40,358.80 C186.82,356.90 188.08,354.05 189.20,351.20 C190.32,348.35 191.15,345.18 192.10,341.70 C193.05,338.22 193.97,334.40 194.90,330.30 C195.83,326.20 196.75,321.52 197.70,317.10 C198.65,312.68 199.67,308.37 200.60,303.80 C201.53,299.23 202.03,296.48 203.30,289.70 C204.57,282.92 206.92,269.88 208.20,263.10 C209.48,256.32 210.17,252.87 211.00,249.00 C211.83,245.13 212.53,242.48 213.20,239.90 C213.87,237.32 214.38,234.93 215.00,233.50 C215.62,232.07 216.27,231.30 216.90,231.30 C217.53,231.30 218.17,231.78 218.80,233.50 C219.43,235.22 219.97,236.67 220.70,241.60 C221.43,246.53 222.60,258.03 223.20,263.10 C223.80,268.17 223.82,267.50 224.30,272.00 C224.78,276.50 225.47,283.73 226.10,290.10 C226.73,296.47 227.27,303.83 228.10,310.20 C228.93,316.57 229.93,323.27 231.10,328.30 C232.27,333.33 233.43,337.22 235.10,340.40 C236.77,343.58 238.75,345.90 241.10,347.40 C243.45,348.90 246.05,348.97 249.20,349.40 C252.35,349.83 245.48,349.90 260.00,350.00 C274.52,350.10 323.58,350.00 336.30,350.00" fill="none" stroke="#6f1a5b" stroke-width="2.70" stroke-linejoin="round" stroke-linecap="round" />
<path d="M59.10,349.60 C61.82,349.63 69.27,349.60 75.40,349.80 C81.53,350.00 89.08,350.45 95.90,350.80 C102.72,351.15 111.45,351.63 116.30,351.90 C121.15,352.17 120.43,352.20 125.00,352.40 C129.57,352.60 138.62,352.78 143.70,353.10 C148.78,353.42 151.55,353.80 155.50,354.30 C159.45,354.80 164.15,355.77 167.40,356.10 C170.65,356.43 173.03,356.23 175.00,356.30 C176.97,356.37 177.93,356.57 179.20,356.50 C180.47,356.43 181.40,356.27 182.60,355.90 C183.80,355.53 185.45,354.77 186.40,354.30 C187.35,353.83 187.35,353.93 188.30,353.10 C189.25,352.27 190.53,351.83 192.10,349.30 C193.67,346.77 195.82,342.02 197.70,337.90 C199.58,333.78 201.62,328.57 203.40,324.60 C205.18,320.63 206.88,317.53 208.40,314.10 C209.92,310.67 211.43,306.42 212.50,304.00 C213.57,301.58 214.13,300.47 214.80,299.60 C215.47,298.73 215.92,298.70 216.50,298.80 C217.08,298.90 217.55,298.63 218.30,300.20 C219.05,301.77 220.05,304.85 221.00,308.20 C221.95,311.55 222.98,316.28 224.00,320.30 C225.02,324.32 225.92,328.45 227.10,332.30 C228.28,336.15 229.43,340.55 231.10,343.40 C232.77,346.25 234.75,348.07 237.10,349.40 C239.45,350.73 242.22,351.03 245.20,351.40 C248.18,351.77 250.87,351.67 255.00,351.60 C259.13,351.53 262.50,351.23 270.00,351.00 C277.50,350.77 288.95,350.37 300.00,350.20 C311.05,350.03 330.25,350.03 336.30,350.00" fill="none" stroke="#c47bc2" stroke-width="2.70" stroke-linejoin="round" stroke-linecap="round" />
<line x1="405.40" y1="230.50" x2="405.40" y2="385.10" stroke="#333333" stroke-width="1.00"/>
<line x1="405.40" y1="230.90" x2="407.20" y2="230.90" stroke="#333333" stroke-width="1.00"/>
<line x1="405.40" y1="385.10" x2="681.50" y2="385.10" stroke="#333333" stroke-width="1.00"/>
<line x1="405.40" y1="385.10" x2="407.00" y2="385.10" stroke="#333333" stroke-width="1.00"/>
<text x="402.60" y="388.50" font-size="10.00" text-anchor="end" fill="#1e1e1e" stroke="#1e1e1e" stroke-width="0.12" letter-spacing="-0.20" >0</text>
<line x1="405.40" y1="341.04" x2="407.00" y2="341.04" stroke="#333333" stroke-width="1.00"/>
<text x="402.60" y="344.44" font-size="10.00" text-anchor="end" fill="#1e1e1e" stroke="#1e1e1e" stroke-width="0.12" letter-spacing="-0.20" >0.2</text>
<line x1="405.40" y1="296.98" x2="407.00" y2="296.98" stroke="#333333" stroke-width="1.00"/>
<text x="402.60" y="300.38" font-size="10.00" text-anchor="end" fill="#1e1e1e" stroke="#1e1e1e" stroke-width="0.12" letter-spacing="-0.20" >0.4</text>
<line x1="405.40" y1="252.92" x2="407.00" y2="252.92" stroke="#333333" stroke-width="1.00"/>
<text x="402.60" y="256.32" font-size="10.00" text-anchor="end" fill="#1e1e1e" stroke="#1e1e1e" stroke-width="0.12" letter-spacing="-0.20" >0.6</text>
<text transform="translate(361.80,355.00) rotate(-90)" font-size="10.00" fill="#1e1e1e" stroke="#1e1e1e" stroke-width="0.12" letter-spacing="-0.12">Posive Ankle Work (J kg<tspan font-size="6.2" dy="-3.6">-1</tspan><tspan dy="3.6">)</tspan></text>
<text transform="translate(374.90,351.80) rotate(-90)" font-size="10.00" fill="#1e1e1e" stroke="#1e1e1e" stroke-width="0.12" letter-spacing="-0.12">Averaged Across Strides</text>
<text x="350.3" y="222.8" font-size="11.3" font-weight="bold" fill="#000">d</text>
<rect x="441.60" y="307.10" width="25.50" height="78.00" fill="#9e9e9e"/>
<rect x="499.80" y="301.90" width="25.10" height="83.20" fill="#424242"/>
<rect x="557.10" y="280.90" width="25.80" height="104.20" fill="#6f1a5b"/>
<rect x="615.30" y="352.00" width="25.70" height="33.10" fill="#c47bc2"/>
<line x1="454.35" y1="292.00" x2="454.35" y2="322.30" stroke="#000" stroke-width="1.40"/>
<line x1="448.35" y1="292.00" x2="460.35" y2="292.00" stroke="#000" stroke-width="1.40"/>
<line x1="448.35" y1="322.30" x2="460.35" y2="322.30" stroke="#000" stroke-width="1.40"/>
<line x1="512.35" y1="288.70" x2="512.35" y2="314.80" stroke="#000" stroke-width="1.40"/>
<line x1="506.35" y1="288.70" x2="518.35" y2="288.70" stroke="#000" stroke-width="1.40"/>
<line x1="506.35" y1="314.80" x2="518.35" y2="314.80" stroke="#000" stroke-width="1.40"/>
<line x1="570.00" y1="266.30" x2="570.00" y2="298.90" stroke="#000" stroke-width="1.40"/>
<line x1="564.00" y1="266.30" x2="576.00" y2="266.30" stroke="#000" stroke-width="1.40"/>
<line x1="564.00" y1="298.90" x2="576.00" y2="298.90" stroke="#000" stroke-width="1.40"/>
<line x1="628.15" y1="342.70" x2="628.15" y2="361.50" stroke="#000" stroke-width="1.40"/>
<line x1="622.15" y1="342.70" x2="634.15" y2="342.70" stroke="#000" stroke-width="1.40"/>
<line x1="622.15" y1="361.50" x2="634.15" y2="361.50" stroke="#000" stroke-width="1.40"/>
<path d="M454.35,283.31 L456.66,279.32 L452.04,279.32 Z" fill="none" stroke="#ffa010" stroke-width="0.90"/>
<circle cx="454.35" cy="288.40" r="2.10" fill="none" stroke="#ff5a5a" stroke-width="0.90"/>
<text x="454.35" y="293.70" font-size="6.50" text-anchor="middle" fill="#808020" style="font-family:'Liberation Sans',sans-serif">&#9733;</text>
<path d="M456.66,307.00 L452.67,304.69 L452.67,309.31 Z" fill="none" stroke="#e010e0" stroke-width="0.90"/>
<path d="M454.35,305.48 L456.03,308.00 L454.35,310.52 L452.67,308.00 Z" fill="none" stroke="#ff6020" stroke-width="0.90"/>
<path d="M454.35,310.49 L456.45,314.06 L452.25,314.06 Z M454.35,315.11 L456.45,311.54 L452.25,311.54 Z" fill="#106010" stroke="#106010" stroke-width="0.5"/>
<path d="M454.35,314.29 L456.66,318.28 L452.04,318.28 Z" fill="none" stroke="#1010ff" stroke-width="0.90"/>
<path d="M452.04,318.40 L456.03,316.09 L456.03,320.71 Z" fill="none" stroke="#10b0c0" stroke-width="0.90"/>
<path d="M452.25,319.00 L456.45,319.00 M454.35,316.90 L454.35,321.10" stroke="#9020e0" stroke-width="1.00"/>
<rect x="452.56" y="324.01" width="3.57" height="3.57" fill="none" stroke="#1f9e1f" stroke-width="0.81"/>
<text x="512.35" y="283.80" font-size="6.50" text-anchor="middle" fill="#808020" style="font-family:'Liberation Sans',sans-serif">&#9733;</text>
<circle cx="512.35" cy="285.70" r="2.10" fill="none" stroke="#ff5a5a" stroke-width="0.90"/>
<path d="M514.66,287.80 L510.67,285.49 L510.67,290.11 Z" fill="none" stroke="#e010e0" stroke-width="0.90"/>
<path d="M512.35,294.41 L514.66,290.42 L510.04,290.42 Z" fill="none" stroke="#ffa010" stroke-width="0.90"/>
<path d="M512.35,303.38 L514.03,305.90 L512.35,308.42 L510.67,305.90 Z" fill="none" stroke="#ff6020" stroke-width="0.90"/>
<path d="M512.35,305.29 L514.45,308.86 L510.25,308.86 Z M512.35,309.91 L514.45,306.34 L510.25,306.34 Z" fill="#106010" stroke="#106010" stroke-width="0.5"/>
<path d="M512.35,306.49 L514.66,310.48 L510.04,310.48 Z" fill="none" stroke="#1010ff" stroke-width="0.90"/>
<rect x="510.56" y="308.71" width="3.57" height="3.57" fill="none" stroke="#1f9e1f" stroke-width="0.81"/>
<path d="M510.04,313.40 L514.03,311.09 L514.03,315.71 Z" fill="none" stroke="#10b0c0" stroke-width="0.90"/>
<path d="M510.25,317.20 L514.45,317.20 M512.35,315.10 L512.35,319.30" stroke="#9020e0" stroke-width="1.00"/>
<path d="M572.31,251.60 L568.32,249.29 L568.32,253.91 Z" fill="none" stroke="#e010e0" stroke-width="0.90"/>
<text x="570.00" y="268.40" font-size="6.50" text-anchor="middle" fill="#808020" style="font-family:'Liberation Sans',sans-serif">&#9733;</text>
<path d="M570.00,278.01 L572.31,274.02 L567.69,274.02 Z" fill="none" stroke="#ffa010" stroke-width="0.90"/>
<rect x="568.22" y="277.71" width="3.57" height="3.57" fill="none" stroke="#1f9e1f" stroke-width="0.81"/>
<path d="M570.00,279.19 L572.10,282.76 L567.90,282.76 Z M570.00,283.81 L572.10,280.24 L567.90,280.24 Z" fill="#106010" stroke="#106010" stroke-width="0.5"/>
<path d="M570.00,283.08 L571.68,285.60 L570.00,288.12 L568.32,285.60 Z" fill="none" stroke="#ff6020" stroke-width="0.90"/>
<circle cx="570.00" cy="286.00" r="2.10" fill="none" stroke="#ff5a5a" stroke-width="0.90"/>
<path d="M567.69,290.10 L571.68,287.79 L571.68,292.41 Z" fill="none" stroke="#10b0c0" stroke-width="0.90"/>
<path d="M567.90,299.70 L572.10,299.70 M570.00,297.60 L570.00,301.80" stroke="#9020e0" stroke-width="1.00"/>
<path d="M570.00,306.49 L572.31,310.48 L567.69,310.48 Z" fill="none" stroke="#1010ff" stroke-width="0.90"/>
<rect x="626.37" y="334.51" width="3.57" height="3.57" fill="none" stroke="#1f9e1f" stroke-width="0.81"/>
<text x="628.15" y="345.60" font-size="6.50" text-anchor="middle" fill="#808020" style="font-family:'Liberation Sans',sans-serif">&#9733;</text>
<path d="M625.84,347.00 L629.83,344.69 L629.83,349.31 Z" fill="none" stroke="#10b0c0" stroke-width="0.90"/>
<path d="M628.15,345.19 L630.46,349.18 L625.84,349.18 Z" fill="none" stroke="#1010ff" stroke-width="0.90"/>
<path d="M630.46,349.90 L626.47,347.59 L626.47,352.21 Z" fill="none" stroke="#e010e0" stroke-width="0.90"/>
<path d="M626.05,351.00 L630.25,351.00 M628.15,348.90 L628.15,353.10" stroke="#9020e0" stroke-width="1.00"/>
<circle cx="628.15" cy="356.00" r="2.10" fill="none" stroke="#ff5a5a" stroke-width="0.90"/>
<path d="M628.15,354.68 L629.83,357.20 L628.15,359.72 L626.47,357.20 Z" fill="none" stroke="#ff6020" stroke-width="0.90"/>
<path d="M628.15,357.69 L630.25,361.26 L626.05,361.26 Z M628.15,362.31 L630.25,358.74 L626.05,358.74 Z" fill="#106010" stroke="#106010" stroke-width="0.5"/>
<path d="M628.15,370.61 L630.46,366.62 L625.84,366.62 Z" fill="none" stroke="#ffa010" stroke-width="0.90"/>
<circle cx="646.70" cy="247.00" r="1.90" fill="none" stroke="#ff5a5a" stroke-width="0.90"/>
<text x="656.40" y="249.40" font-size="6.70" text-anchor="start" fill="#4a4a4a" stroke="#4a4a4a" stroke-width="0.00" letter-spacing="0.00" >P1</text>
<rect x="645.09" y="252.91" width="3.23" height="3.23" fill="none" stroke="#1f9e1f" stroke-width="0.81"/>
<text x="656.40" y="256.92" font-size="6.70" text-anchor="start" fill="#4a4a4a" stroke="#4a4a4a" stroke-width="0.00" letter-spacing="0.00" >P2</text>
<path d="M646.70,259.95 L648.79,263.56 L644.61,263.56 Z" fill="none" stroke="#1010ff" stroke-width="0.90"/>
<text x="656.40" y="264.44" font-size="6.70" text-anchor="start" fill="#4a4a4a" stroke="#4a4a4a" stroke-width="0.00" letter-spacing="0.00" >P3</text>
<path d="M646.70,271.65 L648.79,268.04 L644.61,268.04 Z" fill="none" stroke="#ffa010" stroke-width="0.90"/>
<text x="656.40" y="271.96" font-size="6.70" text-anchor="start" fill="#4a4a4a" stroke="#4a4a4a" stroke-width="0.00" letter-spacing="0.00" >P4</text>
<path d="M648.79,277.08 L645.18,274.99 L645.18,279.17 Z" fill="none" stroke="#e010e0" stroke-width="0.90"/>
<text x="656.40" y="279.48" font-size="6.70" text-anchor="start" fill="#4a4a4a" stroke="#4a4a4a" stroke-width="0.00" letter-spacing="0.00" >P5</text>
<path d="M644.61,284.60 L648.22,282.51 L648.22,286.69 Z" fill="none" stroke="#10b0c0" stroke-width="0.90"/>
<text x="656.40" y="287.00" font-size="6.70" text-anchor="start" fill="#4a4a4a" stroke="#4a4a4a" stroke-width="0.00" letter-spacing="0.00" >P6</text>
<path d="M646.70,289.84 L648.22,292.12 L646.70,294.40 L645.18,292.12 Z" fill="none" stroke="#ff6020" stroke-width="0.90"/>
<text x="656.40" y="294.52" font-size="6.70" text-anchor="start" fill="#4a4a4a" stroke="#4a4a4a" stroke-width="0.00" letter-spacing="0.00" >P7</text>
<text x="646.70" y="301.84" font-size="6.50" text-anchor="middle" fill="#808020" style="font-family:'Liberation Sans',sans-serif">&#9733;</text>
<text x="656.40" y="302.04" font-size="6.70" text-anchor="start" fill="#4a4a4a" stroke="#4a4a4a" stroke-width="0.00" letter-spacing="0.00" >P8</text>
<path d="M646.70,305.07 L648.60,308.30 L644.80,308.30 Z M646.70,309.25 L648.60,306.02 L644.80,306.02 Z" fill="#106010" stroke="#106010" stroke-width="0.5"/>
<text x="656.40" y="309.56" font-size="6.70" text-anchor="start" fill="#4a4a4a" stroke="#4a4a4a" stroke-width="0.00" letter-spacing="0.00" >P9</text>
<path d="M644.80,314.68 L648.60,314.68 M646.70,312.78 L646.70,316.58" stroke="#9020e0" stroke-width="1.00"/>
<text x="656.40" y="317.08" font-size="6.70" text-anchor="start" fill="#4a4a4a" stroke="#4a4a4a" stroke-width="0.00" letter-spacing="0.00" >P10</text>
<line x1="480.50" y1="281.20" x2="493.40" y2="281.20" stroke="#000" stroke-width="1.10"/>
<line x1="475.20" y1="307.30" x2="487.90" y2="307.30" stroke="#000" stroke-width="1.10"/>
<line x1="484.25" y1="286.20" x2="484.25" y2="307.30" stroke="#000" stroke-width="1.00"/>
<path d="M484.25,281.80 L486.55,289.00 L481.95,289.00 Z" fill="#000"/>
<text x="484.45" y="277.60" font-size="9.00" text-anchor="middle" fill="#000" stroke="#000" stroke-width="0.12" letter-spacing="-0.18" >*</text>
<line x1="537.00" y1="281.10" x2="548.10" y2="281.10" stroke="#000" stroke-width="1.10"/>
<line x1="533.00" y1="301.60" x2="543.80" y2="301.60" stroke="#000" stroke-width="1.10"/>
<line x1="540.60" y1="286.10" x2="540.60" y2="301.60" stroke="#000" stroke-width="1.00"/>
<path d="M540.60,281.70 L542.90,288.90 L538.30,288.90 Z" fill="#000"/>
<text x="540.80" y="277.50" font-size="9.00" text-anchor="middle" fill="#000" stroke="#000" stroke-width="0.12" letter-spacing="-0.18" >*</text>
<text x="484.40" y="254.10" font-size="8.80" text-anchor="middle" fill="#000" stroke="#000" stroke-width="0.12" letter-spacing="0.00" >36.0%</text>
<text x="484.60" y="265.70" font-size="8.80" text-anchor="middle" fill="#000" stroke="#000" stroke-width="0.12" letter-spacing="0.00" >increased</text>
<text x="539.00" y="254.20" font-size="8.80" text-anchor="middle" fill="#000" stroke="#000" stroke-width="0.12" letter-spacing="0.00" >25.4%</text>
<text x="539.00" y="265.60" font-size="8.80" text-anchor="middle" fill="#000" stroke="#000" stroke-width="0.12" letter-spacing="0.00" >increased</text>
<text x="452.60" y="396.60" font-size="10.00" text-anchor="middle" fill="#1e1e1e" stroke="#1e1e1e" stroke-width="0.12" letter-spacing="-0.20" >Normal</text>
<text x="452.60" y="408.00" font-size="10.00" text-anchor="middle" fill="#1e1e1e" stroke="#1e1e1e" stroke-width="0.12" letter-spacing="-0.20" >shoes</text>
<text x="512.00" y="396.60" font-size="10.00" text-anchor="middle" fill="#1e1e1e" stroke="#1e1e1e" stroke-width="0.12" letter-spacing="-0.20" >Zero</text>
<text x="512.00" y="408.00" font-size="10.00" text-anchor="middle" fill="#1e1e1e" stroke="#1e1e1e" stroke-width="0.12" letter-spacing="-0.20" >torque</text>
<text x="571.40" y="396.60" font-size="10.00" text-anchor="middle" fill="#1e1e1e" stroke="#1e1e1e" stroke-width="0.12" letter-spacing="-0.20" >Optimized</text>
<text x="571.40" y="408.00" font-size="10.00" text-anchor="middle" fill="#1e1e1e" stroke="#1e1e1e" stroke-width="0.12" letter-spacing="-0.20" >assisted</text>
<text x="571.40" y="419.40" font-size="10.00" text-anchor="middle" fill="#1e1e1e" stroke="#1e1e1e" stroke-width="0.12" letter-spacing="-0.20" >joint total</text>
<text x="631.40" y="396.60" font-size="10.00" text-anchor="middle" fill="#1e1e1e" stroke="#1e1e1e" stroke-width="0.12" letter-spacing="-0.20" >Optimized</text>
<text x="631.40" y="408.00" font-size="10.00" text-anchor="middle" fill="#1e1e1e" stroke="#1e1e1e" stroke-width="0.12" letter-spacing="-0.20" >assistance</text>
<text x="631.40" y="419.40" font-size="10.00" text-anchor="middle" fill="#1e1e1e" stroke="#1e1e1e" stroke-width="0.12" letter-spacing="-0.20" >exo input</text>
</svg>
</body></html>
